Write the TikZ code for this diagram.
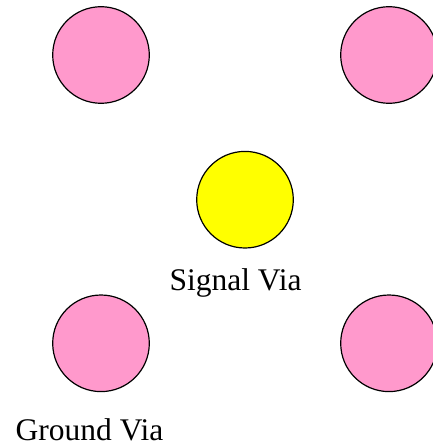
\documentclass[tikz,border=0pt]{standalone}
\usepackage{fontspec}
\setmainfont{Liberation Serif}
\definecolor{gndpink}{RGB}{255,153,204}
\definecolor{sigyellow}{RGB}{255,255,0}

\begin{document}
\begin{tikzpicture}[x=1pt, y=-1pt,
    via/.style={circle, draw, line width=1.2pt, inner sep=0pt, minimum size=96.6pt},
    gnd/.style={via, fill=gndpink},
    sig/.style={via, fill=sigyellow},
    lbl/.style={anchor=base, inner sep=0pt, font=\fontsize{31.5}{36}\selectfont}]
    \useasboundingbox (0, 0) rectangle (432, 444);

    \node[gnd] (gndtl) at (101, 55) {};
    \node[gnd] (gndtr) at (389, 55) {};
    \node[sig] (sigvia) at (245, 199.7) {};
    \node[gnd] (gndbl) at (101, 343.3) {};
    \node[gnd] (gndbr) at (389, 343.3) {};

    \node[lbl] (siglabel) at (235.5, 290) {Signal Via};
    \node[lbl] (gndlabel) at (89.5, 440) {Ground Via};
  \end{tikzpicture}
\end{document}
